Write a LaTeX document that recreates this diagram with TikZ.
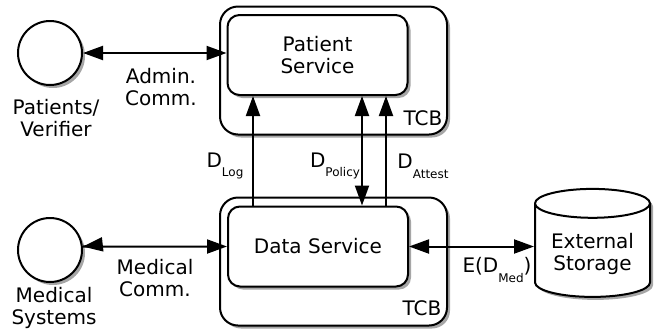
\documentclass[tikz,border=0pt]{standalone}
\usepackage{fontspec}
\setmainfont{DejaVu Sans}
\usetikzlibrary{arrows.meta,shapes.geometric,shadows,positioning}

\newcommand{\lowsub}[1]{\raisebox{-0.9ex}{\fontsize{6}{7}\selectfont #1}}

\begin{document}
\begin{tikzpicture}[x=0.5pt, y=-0.5pt, line width=1pt,
	every node/.style={font=\fontsize{10}{11}\selectfont},
	shadowed/.style={drop shadow={shadow xshift=1.5pt, shadow yshift=-1.5pt, fill=gray!70, opacity=1}},
	actor/.style={circle, draw, fill=white, minimum size=32pt, shadowed},
	service/.style={rectangle, rounded corners=6pt, draw, fill=white, minimum width=90pt, minimum height=40pt, align=center, shadowed},
	tcb/.style={rectangle, rounded corners=9pt, draw, fill=white, minimum width=113.5pt, minimum height=64pt, shadowed},
	store/.style={cylinder, shape border rotate=90, draw, fill=white, aspect=0.3, minimum width=57.5pt, minimum height=54pt, align=center, shadowed},
	txt/.style={align=center, inner sep=0pt},
	flow/.style={-{Triangle[length=10pt,width=7pt]}},
	both/.style={{Triangle[length=10pt,width=7pt]}-{Triangle[length=10pt,width=7pt]}}]
	\useasboundingbox (0,0) rectangle (657,333);

	% trusted boxes
	\node[tcb] (tcbtop) at (333.5,70.5) {};
	\node[tcb] (tcbbot) at (333.5,261.5) {};
	\node[txt] at (423,118) {TCB};
	\node[txt] at (422,308) {TCB};

	\node[service] (ps) at (317.5,55) {Patient\\Service};
	\node[service] (ds) at (318,246.5) {Data Service};

	% outside parties
	\node[actor] (pat) at (50,53) {};
	\node[txt] (patlbl) at (56,118) {Patients/\\Verifier};
	\node[actor] (med) at (50,250) {};
	\node[txt] (medlbl) at (54,308) {Medical\\Systems};
	\node[store] (ext) at (592.5,254) {External\\Storage};

	% channels
	\coordinate (xlog) at (253,0);
	\coordinate (xpol) at (362,0);
	\coordinate (xatt) at (386,0);
	\draw[both] (pat) -- (pat -| ps.west);
	\draw[both] (med) -- (med.east |- ds) -- (ds);
	\draw[both] (ds.east) -- (ds.east -| ext.west);
	\draw[flow] (ds.north -| xlog) -- (ps.south -| xlog);
	\draw[both] (ds.north -| xpol) -- (ps.south -| xpol);
	\draw[flow] (ds.north -| xatt) -- (ps.south -| xatt);

	% labels
	\node[txt] at (161,87) {Admin.\\Comm.};
	\node[txt] at (155,278) {Medical\\Comm.};
	\node[txt] at (225,166) {D\lowsub{Log}};
	\node[txt] at (335,166) {D\lowsub{Policy}};
	\node[txt] at (423,166) {D\lowsub{Attest}};
	\node[txt] at (497,270) {E(D\lowsub{Med})};
\end{tikzpicture}
\end{document}
